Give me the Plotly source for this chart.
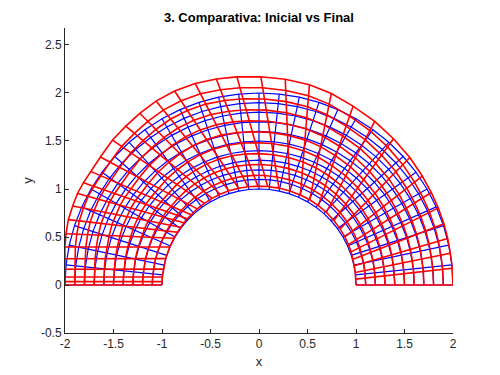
import numpy as np
import plotly.graph_objects as go

# ---- data ----
# initial mesh (blue): polar grid
blue_radii = [1.0, 1.1, 1.2, 1.3, 1.4, 1.5, 1.6, 1.7, 1.8, 1.9, 2.0]
blue_theta_deg = [0, 6, 12, 18, 24, 30, 36, 42, 48, 54, 60, 66, 72, 78, 84, 90,
                  96, 102, 108, 114, 120, 126, 132, 138, 144, 150, 156, 162,
                  168, 174, 180]

# final mesh (red): boundary nodes (outer and inner), 10 layers between
red_outer_theta_deg = [0, 5, 9.5, 14, 18.5, 23.5, 28.5, 34, 40.5, 47.7, 55, 62.5,
                       69.5, 76, 82.8, 89.5, 96, 101.6, 107.4, 113.3, 119, 124.5,
                       129.7, 135, 140.8, 145.7, 149.5, 153, 156.8, 160.9, 165,
                       168.8, 172.2, 175.3, 177.6, 179, 180]
red_outer_r = [2.0, 2.0, 2.0, 2.005, 2.01, 2.015, 2.02, 2.03, 2.045, 2.06, 2.08, 2.10,
               2.13, 2.15, 2.16, 2.17, 2.18, 2.19, 2.20, 2.20, 2.19, 2.17,
               2.15, 2.135, 2.11, 2.10, 2.10, 2.10, 2.09, 2.08, 2.06,
               2.04, 2.02, 2.007, 2.002, 2.0, 2.0]
red_inner_theta_deg = [0, 3.5, 7.5, 11.5, 15.5, 20, 24.5, 29.5, 35, 41, 47.5, 53.5,
                       59.5, 65.5, 72, 78.5, 85, 90.6, 96.4, 101.8, 107.5, 113,
                       118.2, 123.5, 128.8, 133.7, 137, 140, 143.3, 146.9, 151,
                       156.7, 164.1, 170.5, 175.2, 178, 180]
red_inner_r = [1.0, 1.0, 1.001, 1.003, 1.006, 1.01, 1.013, 1.017, 1.02, 1.024, 1.027,
               1.029, 1.03, 1.03, 1.03, 1.03, 1.03, 1.03, 1.03, 1.03, 1.029, 1.027,
               1.024, 1.02, 1.017, 1.013, 1.011, 1.009, 1.007, 1.005, 1.003,
               1.002, 1.001, 1.0, 1.0, 1.0, 1.0]
red_layers = 10

x_ticks = [-2, -1.5, -1, -0.5, 0, 0.5, 1, 1.5, 2]
y_ticks = [-0.5, 0, 0.5, 1, 1.5, 2, 2.5]


def polyline_coords(X, Y):
    """X, Y shape (n_rad, n_ang): rings then spokes, separated by None."""
    cx, cy = [], []
    for i in range(X.shape[0]):
        cx += list(X[i]) + [None]
        cy += list(Y[i]) + [None]
    for j in range(X.shape[1]):
        cx += list(X[:, j]) + [None]
        cy += list(Y[:, j]) + [None]
    return cx, cy


# blue nodes
br = np.array(blue_radii)[:, None]
bt = np.deg2rad(np.array(blue_theta_deg))[None, :]
BX = br * np.cos(bt)
BY = br * np.sin(bt)

# red nodes
to = np.deg2rad(np.array(red_outer_theta_deg))
ti = np.deg2rad(np.array(red_inner_theta_deg))
ro = np.array(red_outer_r)
ri = np.array(red_inner_r)
pox, poy = ro * np.cos(to), ro * np.sin(to)
pix, piy = ri * np.cos(ti), ri * np.sin(ti)
s = (np.arange(red_layers + 1) / red_layers)[:, None]
RX = (1 - s) * pix[None, :] + s * pox[None, :]
RY = (1 - s) * piy[None, :] + s * poy[None, :]

bx, by = polyline_coords(BX, BY)
rx, ry = polyline_coords(RX, RY)

fig = go.Figure()
fig.add_trace(go.Scatter(x=bx, y=by, mode="lines",
                         line=dict(color="rgb(0,0,255)", width=1.2),
                         hoverinfo="skip", showlegend=False))
fig.add_trace(go.Scatter(x=rx, y=ry, mode="lines",
                         line=dict(color="rgb(255,0,0)", width=1.6),
                         hoverinfo="skip", showlegend=False))

FONT = "Liberation Sans, Arial, Helvetica, sans-serif"
axis_common = dict(
    showgrid=False, zeroline=False, showline=True, linecolor="#262626",
    linewidth=1, ticks="inside", ticklen=4, tickcolor="#262626",
    tickfont=dict(family=FONT, size=12, color="#262626"),
    mirror=False, automargin=False,
)
# page body has an 8px margin; figure sized to fit inside the 500x375 window
fig.update_layout(
    width=492, height=367,
    margin=dict(l=57, r=47, t=20, b=42),
    paper_bgcolor="white", plot_bgcolor="white",
    title=dict(text="<b>3. Comparativa: Inicial vs Final</b>",
               x=0.510, xanchor="center", y=0.973, yanchor="middle",
               font=dict(family=FONT, size=13, color="#000000")),
    xaxis=dict(range=[-2, 2], tickvals=x_ticks,
               ticktext=[f"{v:g}" for v in x_ticks],
               title=dict(text="x", standoff=6,
                          font=dict(family=FONT, size=13, color="#262626")),
               **axis_common),
    yaxis=dict(range=[-0.5, 2.677], tickvals=y_ticks,
               ticktext=[f"{v:g}" for v in y_ticks],
               title=dict(text="y", standoff=5,
                          font=dict(family=FONT, size=13, color="#262626")),
               **axis_common),
)
fig.write_html("out.html")
